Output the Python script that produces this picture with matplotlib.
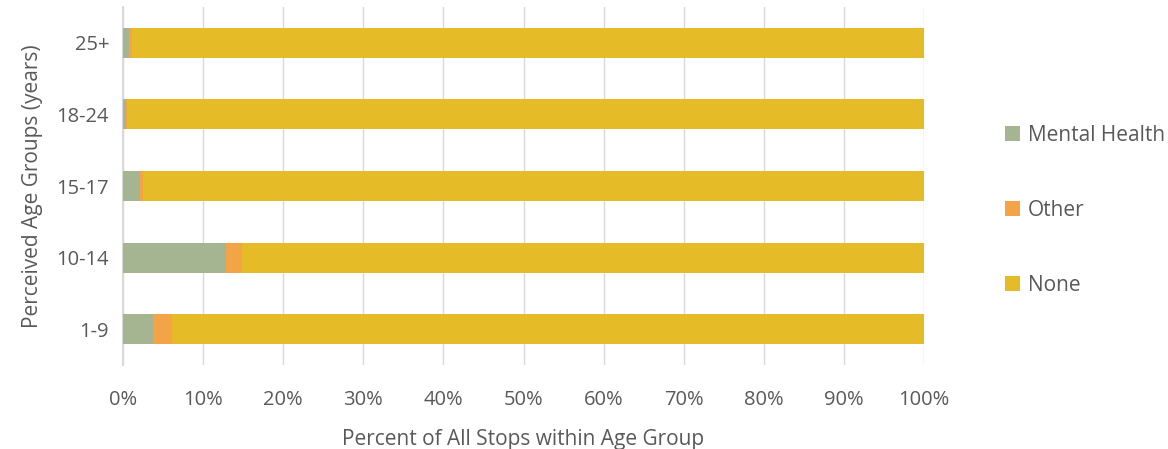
import matplotlib
matplotlib.use("Agg")
import matplotlib.pyplot as plt
from matplotlib.ticker import FuncFormatter

categories = ["1-9", "10-14", "15-17", "18-24", "25+"]
mental_health = [3.8, 12.9, 2.1, 0.4, 0.8]
other = [2.3, 2.0, 0.4, 0.1, 0.3]
none = [100 - m - o for m, o in zip(mental_health, other)]
series_names = ["Mental Health", "Other", "None"]
colors = ["#A5B592", "#F3A447", "#E5BB27"]

plt.rcParams['font.family'] = ['Open Sans', 'DejaVu Sans']
fig = plt.figure(figsize=(11.68, 4.49), dpi=100)
ax = fig.add_axes([123/1168, 1 - 365/449, (924-123)/1168, (365-7)/449])

left = [0]*len(categories)
for name, vals, c in zip(series_names, [mental_health, other, none], colors):
    ax.barh(categories, vals, left=left, color=c, height=0.42, label=name, zorder=3)
    left = [l + v for l, v in zip(left, vals)]

ax.set_xlim(0, 100)
ax.set_ylim(-0.5, 4.5)
ax.set_xticks(range(0, 101, 10))
ax.xaxis.set_major_formatter(FuncFormatter(lambda v, p: f"{int(v)}%"))
ax.grid(axis='x', color='#D9D9D9', linewidth=1, zorder=0)
for s in ['top', 'right', 'bottom']:
    ax.spines[s].set_visible(False)
ax.spines['left'].set_color('#D9D9D9')
ax.spines['left'].set_linewidth(1.5)
ax.tick_params(axis='both', length=0, colors='#595959', labelsize=14.5)
ax.tick_params(axis='x', pad=18)
ax.tick_params(axis='y', pad=10)
ax.set_xlabel("Percent of All Stops within Age Group", fontsize=15, color='#595959', labelpad=14)
ax.set_ylabel("Perceived Age Groups (years)", fontsize=15, color='#595959', labelpad=10)

leg = ax.legend(loc='center left', bbox_to_anchor=(1.078, 0.432), frameon=False,
                fontsize=15, labelspacing=2.6, handlelength=0.7, handleheight=0.7,
                handletextpad=0.4, labelcolor='#595959')

fig.savefig("out.png", dpi=100)
